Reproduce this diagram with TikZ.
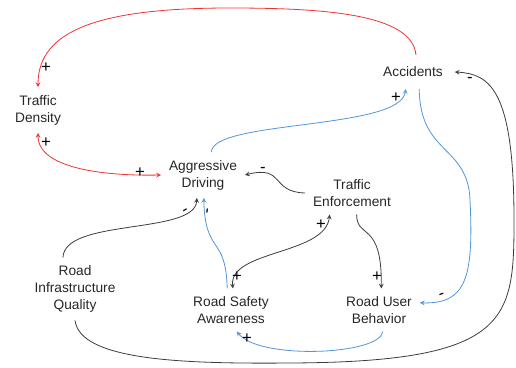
\documentclass[tikz,border=0pt]{standalone}
\usepackage{fontspec}
\setmainfont{Liberation Sans}
\usepackage{tikz}
\definecolor{posred}{RGB}{240,50,50}
\definecolor{flowblue}{RGB}{80,150,220}
\definecolor{linkgray}{RGB}{60,60,60}

\begin{document}
\begin{tikzpicture}[
            x = 0.75pt, y = -0.75pt, % one unit per pixel
            > = stealth, % arrow head style
            line width = 0.6pt, % line style
            var/.style = {align=center, inner sep=4pt, outer sep=2pt, text=black!85,
                          font=\fontsize{10.3}{12.75}\selectfont},
            sign/.style = {inner sep=0pt, font=\fontsize{12.5}{12.5}\selectfont}
        ]
\useasboundingbox (0,0) rectangle (516,367);

\node[var] (TD) at (38,110) {Traffic\\Density};
\node[var, outer sep=5pt] (AC) at (413,72) {Accidents};
\node[var] (AD) at (203,175) {Aggressive\\Driving};
\node[var] (TE) at (352,193) {Traffic\\Enforcement};
\node[var] (RIQ) at (75,289) {Road\\Infrastructure\\Quality};
\node[var] (RSA) at (231,310) {Road Safety\\Awareness};
\node[var] (RUB) at (379,310) {Road User\\Behavior};

% red links
\draw[->, posred] (AC.80) .. controls (412,15) and (330,8) .. (230,8)
      .. controls (100,8) and (38,30) .. (TD.north);
\draw[<->, posred] (TD.south) .. controls (38,170) and (110,176) .. (AD.west);

% blue links
\draw[->, flowblue] (AD.70) .. controls (212,120) and (400,130) .. (AC.247);
\draw[->, flowblue] (AC.290) .. controls (420,155) and (468,145) .. (470,200)
      .. controls (474,280) and (465,304) .. (RUB.10);
\draw[->, flowblue] (RSA.100) .. controls (226,235) and (205,255) .. (AD.272);
\draw[->, flowblue] (RUB.280) .. controls (380,355) and (260,360) .. (RSA.285);

% gray links
\draw[->, linkgray] (TE.west) .. controls (270,192) and (285,165) .. (AD.east);
\draw[->, linkgray] (RIQ.south) .. controls (80,360) and (180,364) .. (290,363)
      .. controls (510,362) and (514,320) .. (514,220)
      .. controls (514,90) and (490,74) .. (AC.east);
\draw[->, linkgray] (RIQ.111) .. controls (64,218) and (195,235) .. (AD.255);
\draw[<->, linkgray] (RSA.85) .. controls (229,250) and (325,255) .. (TE.224);
\draw[->, linkgray] (TE.282) .. controls (357,240) and (382,220) .. (RUB.84);

% polarity signs
\node[sign] (s1) at (46,68) {+};
\node[sign] (s2) at (46,143) {+};
\node[sign] (s3) at (140,173) {+};
\node[sign] (s4) at (396,98) {+};
\node[sign] (s5) at (263,170) {-};
\node[sign, rotate=20] (s6) at (442,296) {-};
\node[sign] (s7) at (470,80) {-};
\node[sign, rotate=30] (s8) at (186,212) {-};
\node[sign, rotate=80] (s9) at (209,211) {-};
\node[sign] (s10) at (237,277) {+};
\node[sign] (s11) at (321,225) {+};
\node[sign] (s12) at (377,277) {+};
\node[sign] (s13) at (247,339) {+};
\end{tikzpicture}
\end{document}
